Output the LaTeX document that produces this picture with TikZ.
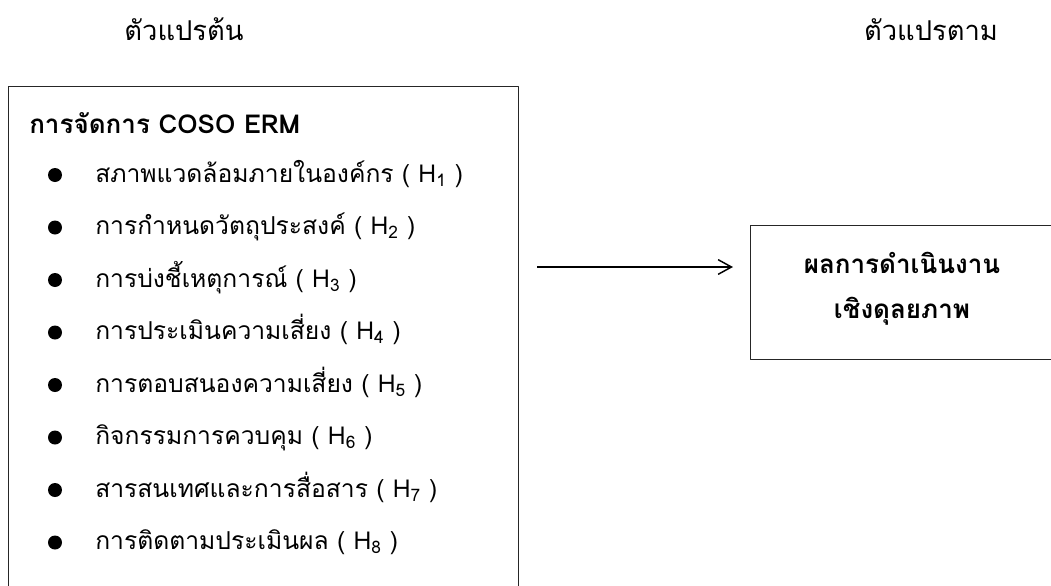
\documentclass[tikz,border=0pt]{standalone}
\usepackage{fontspec}
\setmainfont[Script=Thai]{Loma}
\usetikzlibrary{positioning,arrows.meta}
\tikzset{
  frame/.style={draw=black!85, line width=1pt, inner sep=0pt},
  head/.style={anchor=base, inner sep=0pt, font=\fontsize{20.5}{24}\selectfont},
  item/.style={anchor=base west, inner sep=0pt},
  dot/.style={circle, fill=black, inner sep=0pt, minimum size=10.5pt},
}
\newcommand{\hyp}[1]{( H\textsubscript{#1} )}
\begin{document}
\begin{tikzpicture}[x=0.75pt, y=-0.75pt, font=\fontsize{18.5}{22}\selectfont, line join=round, >={Straight Barb[length=10pt,width=11pt]}]
  \useasboundingbox (0,0) rectangle (1051,586);
  \clip (0,0) rectangle (1051,586);
  % headings
  \node[head] (indep) at (184,40) {ตัวแปรต้น};
  \node[head] (dep) at (931,40) {ตัวแปรตาม};
  % left frame
  \node[frame, anchor=north west, minimum width=382.5pt, minimum height=390pt] (coso) at (8,86) {};
  \node[item, font=\fontsize{19.5}{23}\selectfont\bfseries] (title) at (29,133) {การจัดการ COSO ERM};
  \foreach \txt [count=\i] in {สภาพแวดล้อมภายในองค์กร, การกำหนดวัตถุประสงค์, การบ่งชี้เหตุการณ์, การประเมินความเสี่ยง, การตอบสนองความเสี่ยง, กิจกรรมการควบคุม, สารสนเทศและการสื่อสาร, การติดตามประเมินผล}{
    \node[dot] (b\i) at (55,{175+52.5*(\i-1)}) {};
    \node[item] (h\i) at (95,{182+52.5*(\i-1)}) {\txt\ \hyp{\i}};
  }
  % right frame
  \node[frame, anchor=north west, minimum width=235pt, minimum height=100.5pt] (perf) at (750,225) {};
  \node[inner sep=0pt, align=center, font=\fontsize{19.5}{34}\selectfont\bfseries] (perftxt) at (902,289) {ผลการดำเนินงาน\\เชิงดุลยภาพ};
  % arrow
  \coordinate (a1) at (537,267);
  \coordinate (a2) at (733,267);
  \draw[->, line width=1.1pt] (a1) -- (a2);
\end{tikzpicture}
\end{document}
